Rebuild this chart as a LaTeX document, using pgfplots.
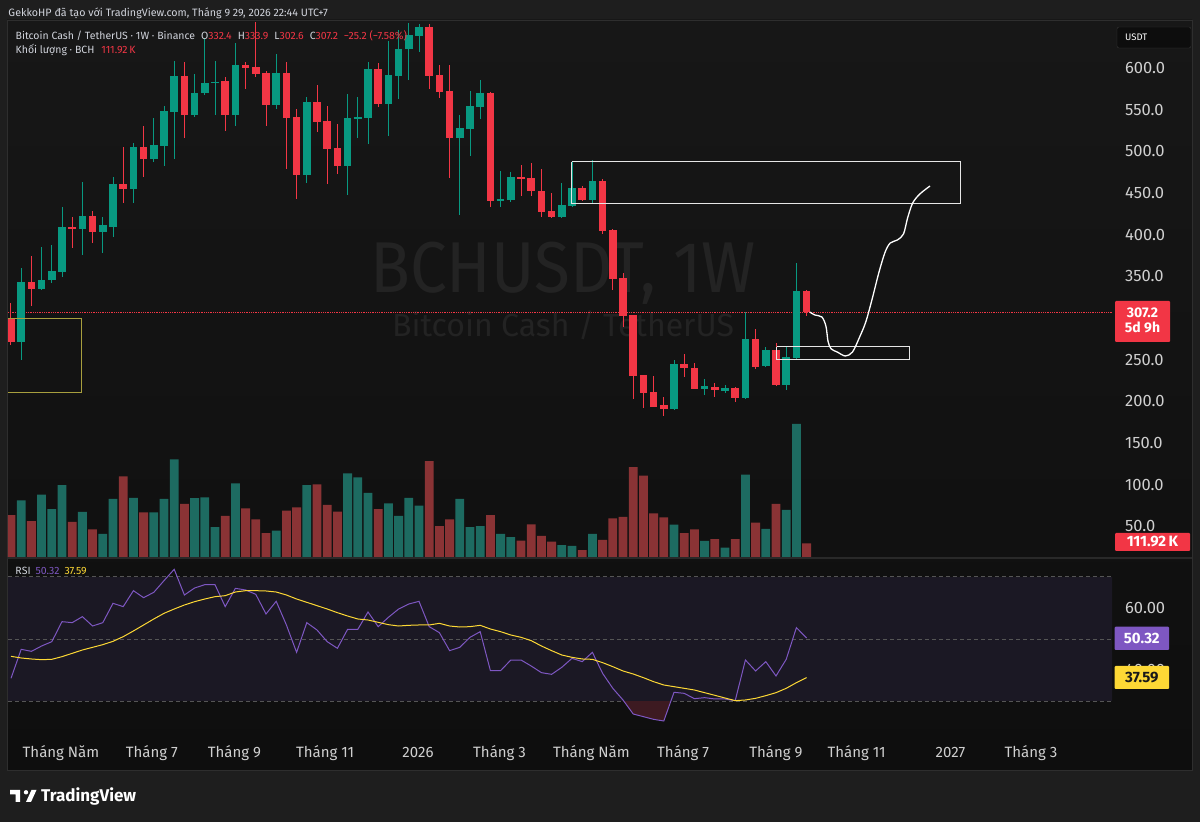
\documentclass[border=0pt]{standalone}
\usepackage{fontspec}
\setmainfont{Fira Sans}
\usepackage{pgfplots}
\usepackage{pgfplotstable}
\pgfplotsset{compat=1.18}
\definecolor{outerbg}{HTML}{1E1E1E}
\definecolor{paneltop}{HTML}{171717}
\definecolor{panelbot}{HTML}{0E0E0E}
\definecolor{bull}{HTML}{089981}
\definecolor{bear}{HTML}{F23645}
\definecolor{volbull}{HTML}{1D6B61}
\definecolor{volbear}{HTML}{8A3335}
\definecolor{tvtext}{HTML}{D1D4DC}
\definecolor{axtext}{HTML}{CFCFCF}
\definecolor{wm}{HTML}{232323}
\definecolor{rsiline}{HTML}{7E57C2}
\definecolor{rsima}{HTML}{FDD835}
\definecolor{rsiband}{HTML}{1B1824}
\definecolor{dashc}{HTML}{555555}
\definecolor{olivebox}{HTML}{A89F3E}
\definecolor{osfill}{HTML}{3D1A21}
\definecolor{draww}{HTML}{E6E6E6}
\newcommand\fs[1]{\fontsize{#1}{#1}\selectfont}

% weekly candles: index, open, high, low, close, volume (K BCH)
\pgfplotstableread{
i O H L C V
1 271.6 359.6 249.6 343.2 463
3 335.2 385.6 333.0 345.6 509
4 345.6 387.6 341.6 356.8 392
5 355.6 433.6 349.6 409.2 588
7 406.4 462.8 375.6 422.4 368
9 403.2 420.8 377.6 411.2 188
10 409.6 469.6 397.6 460.8 474
12 454.4 510.4 438.4 504.8 482
14 490.4 540.0 487.6 507.6 365
15 506.8 554.4 482.4 548.0 474
16 547.6 608.8 490.4 590.4 798
18 544.0 592.4 541.6 570.4 480
19 570.4 635.6 567.6 582.4 488
20 582.4 608.8 543.6 583.4 245
22 543.6 630.4 530.4 604.0 602
26 555.6 616.4 550.4 594.4 215
29 471.6 564.8 462.4 559.2 588
33 482.4 568.8 447.2 539.6 684
34 539.6 564.8 515.6 540.8 651
35 539.6 607.6 508.8 598.4 523
37 556.8 632.8 518.8 591.6 439
38 590.4 645.6 562.4 623.2 335
39 622.4 653.6 585.6 639.6 482
40 638.4 653.0 619.6 649.6 419
44 515.6 543.6 423.6 527.6 474
45 526.4 572.8 494.4 554.4 245
46 553.6 585.6 538.4 570.4 253
48 440.8 476.8 432.8 442.8 188
49 441.6 475.6 439.6 469.6 163
54 420.8 461.6 419.6 435.6 98
55 434.8 487.6 433.6 455.6 90
57 441.6 489.6 437.6 464.8 188
65 190.4 249.6 189.6 244.8 264
68 215.2 227.2 207.6 218.4 131
70 212.8 219.6 209.6 215.6 76
72 203.6 306.8 202.8 274.8 672
74 242.4 265.6 240.8 261.6 229
76 219.6 266.4 213.6 252.8 384
77 251.6 366.4 250.8 332.8 1087
}\bullT
\pgfplotstableread{
i O H L C V
0 300.4 318.4 267.6 271.6 343
2 343.2 374.8 314.4 335.2 294
6 409.2 420.8 383.6 406.4 286
8 422.4 428.8 389.6 403.2 226
11 460.8 505.6 437.6 454.4 659
13 504.8 530.4 468.8 490.4 365
17 590.4 607.6 515.6 544.0 433
21 584.4 589.6 524.4 543.6 335
23 603.2 607.6 574.8 600.4 398
24 601.6 655.0 588.8 592.8 308
25 594.4 596.0 530.4 555.6 196
27 594.4 606.8 478.4 539.6 378
28 540.8 550.4 442.8 471.6 406
30 559.6 579.6 523.6 535.6 594
31 536.8 554.4 460.8 502.8 425
32 504.0 532.8 472.8 482.4 370
36 598.4 605.6 552.8 556.8 392
41 649.6 653.0 574.4 590.4 784
42 591.6 603.6 563.6 571.6 253
43 572.8 603.6 467.6 515.6 308
47 570.4 571.0 432.8 440.8 343
50 469.6 483.6 446.4 466.8 133
51 467.6 486.4 446.4 452.4 267
52 452.8 478.4 420.8 427.6 172
53 428.8 450.4 419.6 420.8 125
56 455.6 458.4 440.8 441.6 57
58 464.8 466.4 400.8 404.4 139
59 405.6 406.4 333.6 346.4 316
60 347.6 354.4 289.6 302.4 327
61 303.6 304.0 202.4 230.4 735
62 231.6 232.0 192.4 209.6 664
63 210.8 230.8 192.8 193.6 357
64 195.6 205.6 182.4 190.4 324
66 244.8 256.4 229.6 239.6 196
67 240.4 245.6 214.4 215.2 226
69 217.6 221.6 204.8 213.6 147
71 215.6 216.8 199.6 203.6 147
73 274.8 286.8 238.4 241.6 280
75 261.6 269.6 218.8 219.6 433
78 332.4 333.9 302.6 307.2 111.92
}\bearT
% RSI (R) and its moving average (M)
\pgfplotstableread{
i R M
0 37.35 44.42
1 46.68 43.89
2 46.03 43.57
3 47.75 43.35
4 49.14 43.46
5 55.58 44.32
6 55.26 45.39
7 57.19 46.46
8 54.18 47.32
9 55.26 48.18
10 61.48 49.25
11 60.41 50.75
12 65.55 52.58
13 63.30 54.51
14 65.02 56.44
15 68.77 58.26
16 72.42 59.65
17 64.16 60.94
18 66.41 62.01
19 67.48 62.87
20 67.48 63.62
21 60.41 63.94
22 66.30 65.12
23 65.77 65.55
24 64.37 65.55
25 58.05 65.45
26 62.12 65.12
27 54.51 64.16
28 45.71 62.87
29 55.26 61.80
30 52.90 60.73
31 49.14 59.65
32 47.00 58.47
33 53.11 57.40
34 53.11 56.44
35 58.69 56.11
36 53.97 55.36
37 56.97 54.61
38 59.65 54.18
39 61.26 54.40
40 62.12 54.51
41 53.97 54.51
42 52.04 55.04
43 46.25 54.18
44 47.32 53.86
45 50.54 53.97
46 52.36 54.40
47 39.81 53.22
48 39.81 52.36
49 43.24 51.29
50 43.24 50.54
51 41.31 49.47
52 39.17 47.75
53 38.63 46.25
54 40.89 44.85
55 43.78 44.10
56 42.71 43.57
57 45.71 43.46
58 38.95 42.39
59 34.13 41.10
60 30.38 39.71
61 25.87 38.74
62 25.01 37.56
63 24.15 36.27
64 23.62 35.20
65 32.84 34.66
66 32.52 34.13
67 30.80 33.59
68 31.13 32.73
69 30.70 31.88
70 30.70 31.02
71 30.16 30.16
72 43.24 30.38
73 39.71 30.91
74 42.71 31.77
75 38.10 32.73
76 43.46 34.13
77 53.65 35.95
78 50.32 37.59
}\rsiT

\pgfplotsset{
  wick/.style={forget plot, draw=none, mark=none,
    error bars/.cd, y dir=both, y explicit, error mark=none,
    error bar style={draw=#1, line width=1pt, solid}},
  body/.style={forget plot, draw=none, mark=none,
    error bars/.cd, y dir=both, y explicit, error mark=none,
    error bar style={draw=#1, line width=7.6pt, solid}},
}

\begin{document}
\begin{tikzpicture}[x=1pt,y=1pt]
\fill[outerbg] (0,0) rectangle (1200,822);
% chart panel
\shade[top color=paneltop, bottom color=panelbot] (7,52) rectangle (1192,802);
\draw[color=white!18!black, line width=0.8pt] (7,52) rectangle (1192,802);
\draw[color=white!16!black, line width=1.2pt] (7,264) -- (1192,264);

% watermark
\node[anchor=base, inner sep=0pt, text=wm, font=\fs{72}, xscale=0.91] at (563,529) {BCHUSDT, 1W};
\node[anchor=base, inner sep=0pt, text=wm, font=\fs{32}] at (563,485) {Bitcoin Cash / TetherUS};

% volume
\begin{axis}[at={(8pt,265pt)}, anchor=south west, scale only axis,
  width=1104pt, height=537pt,
  xmin=-0.294, xmax=107.94, ymin=0, ymax=4387, hide axis]
\addplot[ybar, bar width=8.8pt, bar shift=0pt, fill=volbull, draw=none] table[x=i,y=V] \bullT;
\addplot[ybar, bar width=8.8pt, bar shift=0pt, fill=volbear, draw=none] table[x=i,y=V] \bearT;
\end{axis}

% price
\begin{axis}[at={(8pt,265pt)}, anchor=south west, scale only axis,
  width=1104pt, height=537pt,
  xmin=-0.294, xmax=107.94, ymin=13.2, ymax=657.6,
  axis line style={draw=none}, major tick length=0pt,
  xtick=\empty, ytick={50,100,150,200,250,350,400,450,500,550,600}, yticklabel pos=right,
  scaled y ticks=false,
  yticklabel style={anchor=west, inner sep=0pt, xshift=13pt, font=\fs{16.5}, text=axtext,
    /pgf/number format/fixed, /pgf/number format/fixed zerofill,
    /pgf/number format/precision=1},
  /pgf/number format/assume math mode=true]
\addplot[forget plot, bear, densely dotted, line width=0.8pt] coordinates {(-0.3,307.2) (108,307.2)};
\addplot[wick=bull] table[x=i, y expr={(\thisrow{H}+\thisrow{L})/2}, y error expr={(\thisrow{H}-\thisrow{L})/2}] \bullT;
\addplot[wick=bear] table[x=i, y expr={(\thisrow{H}+\thisrow{L})/2}, y error expr={(\thisrow{H}-\thisrow{L})/2}] \bearT;
\addplot[body=bull] table[x=i, y expr={(\thisrow{O}+\thisrow{C})/2}, y error expr={max(abs(\thisrow{C}-\thisrow{O})/2,0.6)}] \bullT;
\addplot[body=bear] table[x=i, y expr={(\thisrow{O}+\thisrow{C})/2}, y error expr={max(abs(\thisrow{C}-\thisrow{O})/2,0.6)}] \bearT;
% drawings
\addplot[forget plot, olivebox, line width=1pt] coordinates {(-0.36,299.6) (6.89,299.6) (6.89,210.8) (-0.36,210.8) (-0.36,299.6)};
\addplot[forget plot, draww, line width=1pt] coordinates {(54.97,487.6) (93.04,487.6) (93.04,437.6) (54.97,437.6) (54.97,487.6)};
\addplot[forget plot, draww, line width=1pt] coordinates {(75.07,265.6) (88.04,265.6) (88.04,249.6) (75.07,249.6) (75.07,265.6)};
\addplot[forget plot, white, line width=1.3pt, smooth, tension=0.5] coordinates {
 (78.3,307.2) (78.8,303.6) (79.5,301.2) (79.9,290) (80.1,272) (80.4,263) (81.0,259.2)
 (81.8,254.4) (82.5,259.2) (83.2,277.2) (83.8,295.2) (84.4,321.6) (85.1,355.2)
 (85.7,379.2) (86.2,390) (86.9,393.6) (87.5,400.8) (87.9,420) (88.4,438) (89.1,448.8) (90.1,458.4)};
\end{axis}

% RSI
\begin{axis}[at={(8pt,92pt)}, anchor=south west, scale only axis,
  width=1104pt, height=170pt,
  xmin=-0.294, xmax=107.94, ymin=20.72, ymax=75.42,
  axis line style={draw=none}, major tick length=0pt,
  ytick={40,60}, yticklabel pos=right, scaled y ticks=false,
  yticklabel style={anchor=west, inner sep=0pt, xshift=13pt, font=\fs{16.5}, text=axtext,
    /pgf/number format/fixed, /pgf/number format/fixed zerofill,
    /pgf/number format/precision=2},
  xtick={4.9,13.8,21.9,30.8,39.9,47.9,56.9,65.9,75.0,82.9,92.1,100.0},
  xticklabels={Tháng Năm,Tháng 7,Tháng 9,Tháng 11,2026,Tháng 3,Tháng Năm,Tháng 7,Tháng 9,Tháng 11,2027,Tháng 3},
  xticklabel style={anchor=base, inner sep=0pt, yshift=-28pt, font=\fs{15}, text=axtext},
  /pgf/number format/assume math mode=true]
\addplot[forget plot, fill=rsiband, draw=none] coordinates {(-0.3,30) (108,30) (108,70) (-0.3,70)};
\addplot[forget plot, dashc, dash pattern=on 4pt off 3pt, line width=0.8pt] coordinates {(-0.3,70) (108,70)};
\addplot[forget plot, dashc, dash pattern=on 4pt off 3pt, line width=0.8pt] coordinates {(-0.3,50) (108,50)};
\addplot[forget plot, dashc, dash pattern=on 4pt off 3pt, line width=0.8pt] coordinates {(-0.3,30) (108,30)};
% oversold area (RSI below 30)
\addplot[forget plot, fill=osfill, draw=none] coordinates {(60.08,30) (61,25.87) (62,25.01) (63,24.15) (64,23.62) (64.69,30)};
\addplot[forget plot, rsiline, line width=1pt] table[x=i,y=R] \rsiT;
\addplot[forget plot, rsima, line width=1pt] table[x=i,y=M] \rsiT;
\end{axis}

% header and legends
\node[anchor=base west, inner sep=0pt, font=\fs{10.7}, text=tvtext] at (8.3,805.3)
  {GekkoHP đã tạo với TradingView.com, Tháng 9 29, 2026 22:44 UTC+7};
\node[anchor=base west, inner sep=0pt, font=\fs{10.5}, text=tvtext] at (15.5,782.7)
  {Bitcoin Cash / TetherUS · 1W · Binance\hspace{6pt}O\textcolor{bear}{332.4}\hspace{6pt}H\textcolor{bear}{333.9}\hspace{6pt}L\textcolor{bear}{302.6}\hspace{6pt}C\textcolor{bear}{307.2}\hspace{6pt}\textcolor{bear}{−25.2 (−7.58\%)}};
\node[anchor=base west, inner sep=0pt, font=\fs{10.5}, text=tvtext] at (15.5,768.7)
  {Khối lượng · BCH\hspace{7pt}\textcolor{bear}{111.92\,K}};
\node[anchor=base west, inner sep=0pt, font=\fs{10.5}, text=tvtext] at (15.3,247)
  {RSI\hspace{5pt}\textcolor{rsiline}{50.32}\hspace{5pt}\textcolor{rsima}{37.59}};

% price scale boxes
\draw[fill=black!95!white, draw=white!22!black, rounded corners=2pt] (1117,795) rectangle (1191,774);
\node[anchor=west, inner sep=0pt, font=\fs{9.5}, text=white] at (1125,784.5) {USDT};
\fill[bear, rounded corners=1pt] (1115,521) rectangle (1170,480);
\node[inner sep=0pt, align=center, font=\fontsize{14}{15.5}\selectfont\bfseries, text=white] at (1142.5,501.5) {307.2\\5d 9h};
\fill[bear, rounded corners=1pt] (1115,289) rectangle (1190,271);
\node[inner sep=0pt, font=\fs{15}\bfseries, text=white] at (1152.5,280) {111.92\,K};
\fill[rsiline, rounded corners=1pt] (1114.6,195.3) rectangle (1169,172);
\node[inner sep=0pt, font=\fs{15}\bfseries, text=white] at (1141.8,183.6) {50.32};
\fill[rsima, rounded corners=1pt] (1114.6,156) rectangle (1169,133);
\node[inner sep=0pt, font=\fs{15}\bfseries, text=black!90!white] at (1141.8,144.5) {37.59};

% footer logo
\fill[white] (10,32) -- (20,32) -- (20,20) -- (15.5,20) -- (15.5,27.5) -- (10,27.5) -- cycle;
\fill[white] (26,29.7) circle (2.2);
\fill[white] (26,20) -- (31,20) -- (36.5,32) -- (31.5,32) -- cycle;
\node[anchor=base west, inner sep=0pt, font=\fs{17}\bfseries, text=white] at (41,20.3) {TradingView};
\pgfresetboundingbox
\useasboundingbox (0,0) rectangle (1200,822);
\end{tikzpicture}
\end{document}
